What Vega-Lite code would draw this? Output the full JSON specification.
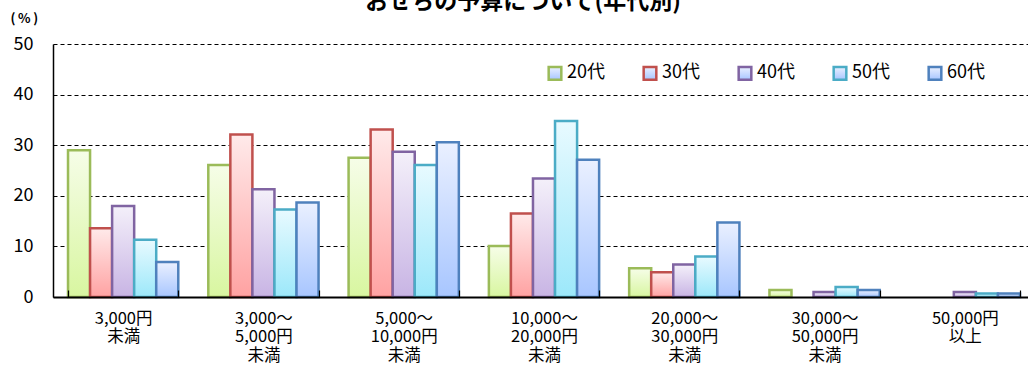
{
  "$schema": "https://vega.github.io/schema/vega-lite/v6.json",
  "autosize": "none",
  "width": 982,
  "height": 253,
  "padding": {"left": 53, "top": 44, "right": 0, "bottom": 72},
  "background": "white",
  "config": {
    "font": "Noto Sans CJK JP",
    "view": {"stroke": null}
  },
  "title": {
    "text": "おせちの予算について(年代別)",
    "font": "Noto Sans CJK JP",
    "fontSize": 23,
    "fontWeight": "bold",
    "color": "black",
    "anchor": "middle",
    "baseline": "alphabetic",
    "dx": -21,
    "dy": 22,
    "offset": 2
  },
  "data": {
    "values": [
      {"budget": "3,000円\n未満", "age": "20代", "pct": 29.0},
      {"budget": "3,000円\n未満", "age": "30代", "pct": 13.6},
      {"budget": "3,000円\n未満", "age": "40代", "pct": 18.0},
      {"budget": "3,000円\n未満", "age": "50代", "pct": 11.3},
      {"budget": "3,000円\n未満", "age": "60代", "pct": 6.9},
      {"budget": "3,000～\n5,000円\n未満", "age": "20代", "pct": 26.1},
      {"budget": "3,000～\n5,000円\n未満", "age": "30代", "pct": 32.1},
      {"budget": "3,000～\n5,000円\n未満", "age": "40代", "pct": 21.3},
      {"budget": "3,000～\n5,000円\n未満", "age": "50代", "pct": 17.3},
      {"budget": "3,000～\n5,000円\n未満", "age": "60代", "pct": 18.7},
      {"budget": "5,000～\n10,000円\n未満", "age": "20代", "pct": 27.5},
      {"budget": "5,000～\n10,000円\n未満", "age": "30代", "pct": 33.1},
      {"budget": "5,000～\n10,000円\n未満", "age": "40代", "pct": 28.7},
      {"budget": "5,000～\n10,000円\n未満", "age": "50代", "pct": 26.1},
      {"budget": "5,000～\n10,000円\n未満", "age": "60代", "pct": 30.6},
      {"budget": "10,000～\n20,000円\n未満", "age": "20代", "pct": 10.1},
      {"budget": "10,000～\n20,000円\n未満", "age": "30代", "pct": 16.5},
      {"budget": "10,000～\n20,000円\n未満", "age": "40代", "pct": 23.4},
      {"budget": "10,000～\n20,000円\n未満", "age": "50代", "pct": 34.8},
      {"budget": "10,000～\n20,000円\n未満", "age": "60代", "pct": 27.1},
      {"budget": "20,000～\n30,000円\n未満", "age": "20代", "pct": 5.7},
      {"budget": "20,000～\n30,000円\n未満", "age": "30代", "pct": 4.9},
      {"budget": "20,000～\n30,000円\n未満", "age": "40代", "pct": 6.4},
      {"budget": "20,000～\n30,000円\n未満", "age": "50代", "pct": 8.0},
      {"budget": "20,000～\n30,000円\n未満", "age": "60代", "pct": 14.7},
      {"budget": "30,000～\n50,000円\n未満", "age": "20代", "pct": 1.4},
      {"budget": "30,000～\n50,000円\n未満", "age": "40代", "pct": 1.0},
      {"budget": "30,000～\n50,000円\n未満", "age": "50代", "pct": 2.0},
      {"budget": "30,000～\n50,000円\n未満", "age": "60代", "pct": 1.4},
      {"budget": "50,000円\n以上", "age": "40代", "pct": 1.0},
      {"budget": "50,000円\n以上", "age": "50代", "pct": 0.7},
      {"budget": "50,000円\n以上", "age": "60代", "pct": 0.7}
    ]
  },
  "mark": {"type": "bar", "strokeWidth": 2.5},
  "encoding": {
    "x": {
      "field": "budget",
      "type": "nominal",
      "sort": [
        "3,000円\n未満",
        "3,000～\n5,000円\n未満",
        "5,000～\n10,000円\n未満",
        "10,000～\n20,000円\n未満",
        "20,000～\n30,000円\n未満",
        "30,000～\n50,000円\n未満",
        "50,000円\n以上"
      ],
      "scale": {"paddingInner": 0.214, "paddingOuter": 0.107},
      "axis": {
        "title": null,
        "labelAngle": 0,
        "labelExpr": "isValid(datum.value) ? split(datum.value, '\\n') : ''",
        "labelFont": "Noto Sans CJK JP",
        "labelFontSize": 16.5,
        "labelLineHeight": 18.5,
        "labelBaseline": "top",
        "labelColor": "black",
        "labelPadding": 20,
        "ticks": true,
        "tickBand": "extent",
        "tickSize": -7,
        "tickColor": "black",
        "tickWidth": 1.2,
        "domainColor": "black",
        "domainWidth": 2,
        "zindex": 1
      }
    },
    "xOffset": {
      "field": "age",
      "type": "nominal",
      "sort": ["20代", "30代", "40代", "50代", "60代"],
      "scale": {"domain": ["20代", "30代", "40代", "50代", "60代"], "paddingInner": 0, "paddingOuter": 0}
    },
    "y": {
      "field": "pct",
      "type": "quantitative",
      "scale": {"domain": [0, 50], "nice": false},
      "axis": {
        "title": "(\u2009%\u2009)",
        "titleAngle": 0,
        "titleAlign": "left",
        "titleBaseline": "middle",
        "titleX": -43,
        "titleY": -26,
        "titleFont": "Noto Sans CJK JP",
        "titleFontSize": 13,
        "titleFontWeight": "bold",
        "titleColor": "black",
        "values": [0, 10, 20, 30, 40, 50],
        "grid": true,
        "gridColor": "black",
        "gridDash": [4, 3],
        "gridWidth": 1,
        "ticks": false,
        "labelPadding": 20,
        "labelFont": "Noto Sans CJK JP",
        "labelFontSize": 18,
        "labelColor": "black",
        "domainColor": "black",
        "domainWidth": 1.5
      }
    },
    "fill": {
      "condition": [
        {"test": "datum.age === '20代'", "value": {"gradient": "linear", "x1": 0, "y1": 0, "x2": 0, "y2": 1, "stops": [{"offset": 0, "color": "#F6FDE8"}, {"offset": 1, "color": "#D8F6A0"}]}},
        {"test": "datum.age === '30代'", "value": {"gradient": "linear", "x1": 0, "y1": 0, "x2": 0, "y2": 1, "stops": [{"offset": 0, "color": "#FFEAEA"}, {"offset": 1, "color": "#FFA2A2"}]}},
        {"test": "datum.age === '40代'", "value": {"gradient": "linear", "x1": 0, "y1": 0, "x2": 0, "y2": 1, "stops": [{"offset": 0, "color": "#F4F0FA"}, {"offset": 1, "color": "#C8B4E4"}]}},
        {"test": "datum.age === '50代'", "value": {"gradient": "linear", "x1": 0, "y1": 0, "x2": 0, "y2": 1, "stops": [{"offset": 0, "color": "#E8FAFF"}, {"offset": 1, "color": "#9CE8FA"}]}}
      ],
      "value": {"gradient": "linear", "x1": 0, "y1": 0, "x2": 0, "y2": 1, "stops": [{"offset": 0, "color": "#EAF0FF"}, {"offset": 1, "color": "#A8C6FF"}]}
    },
    "stroke": {
      "field": "age",
      "type": "nominal",
      "scale": {
        "domain": ["20代", "30代", "40代", "50代", "60代"],
        "range": ["#9BBB59", "#C0504D", "#8064A2", "#4BACC6", "#4F81BD"]
      },
      "legend": {
        "title": null,
        "orient": "none",
        "legendX": 493,
        "legendY": 20,
        "direction": "horizontal",
        "columns": 5,
        "symbolType": "square",
        "symbolSize": 160,
        "symbolStrokeWidth": 2.5,
        "labelFont": "Noto Sans CJK JP",
        "labelFontSize": 18,
        "labelColor": "black",
        "labelOffset": 3,
        "columnPadding": 33,
        "encode": {
          "symbols": {
            "update": {
              "fill": {"signal": "datum.value === '20代' ? {gradient: 'linear', x1: 0, y1: 0, x2: 0, y2: 1, stops: [{offset: 0, color: '#F6FDE8'}, {offset: 1, color: '#D8F6A0'}]} : datum.value === '30代' ? {gradient: 'linear', x1: 0, y1: 0, x2: 0, y2: 1, stops: [{offset: 0, color: '#FFEAEA'}, {offset: 1, color: '#FFA2A2'}]} : datum.value === '40代' ? {gradient: 'linear', x1: 0, y1: 0, x2: 0, y2: 1, stops: [{offset: 0, color: '#F4F0FA'}, {offset: 1, color: '#C8B4E4'}]} : datum.value === '50代' ? {gradient: 'linear', x1: 0, y1: 0, x2: 0, y2: 1, stops: [{offset: 0, color: '#E8FAFF'}, {offset: 1, color: '#9CE8FA'}]} : {gradient: 'linear', x1: 0, y1: 0, x2: 0, y2: 1, stops: [{offset: 0, color: '#EAF0FF'}, {offset: 1, color: '#A8C6FF'}]}"},
              "opacity": {"value": 1}
            }
          }
        }
      }
    }
  }
}
